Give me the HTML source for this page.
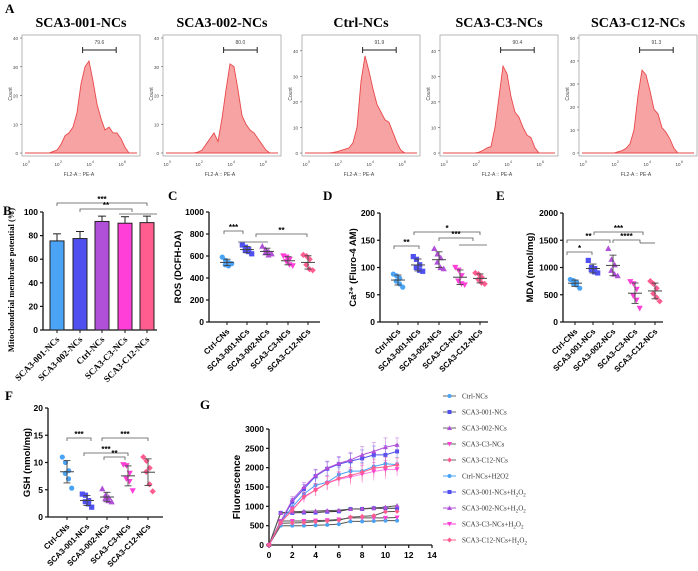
<!DOCTYPE html>
<html><head><meta charset="utf-8">
<style>
html,body{margin:0;padding:0;background:#fff;}
svg{display:block;font-family:"Liberation Sans",sans-serif;}
.serif{font-family:"Liberation Serif",serif;}
</style></head>
<body>
<svg id="fig" width="698" height="571" viewBox="0 0 698 571" xmlns="http://www.w3.org/2000/svg"></svg>
<script>
// ===== Panel A data (histogram counts at log10 steps of 0.25 starting at 1.5) =====
const histTitles = ["SCA3-001-NCs","SCA3-002-NCs","Ctrl-NCs","SCA3-C3-NCs","SCA3-C12-NCs"];
const histGates = ["79.6","80.0","91.9","90.4","91.3"];
const histYMax = [40,40,45,45,50];
const hist0 = [0,0.5,1,3,6,7,9,14,24,30,32,25,17,12,8,9,7,7,5,2,0,0,0];
const hist1 = [0,0,0.3,1,3,5,7,4,12,22,31,30,22,13,10,8,7,5,3,1,0,0,0];
const hist2 = [0,0.2,0.5,1,1.5,2,4,10,28,38,32,25,19,16,13,12,8,4,1,0,0,0,0];
const hist3 = [0,0,0,0.3,1,2,2.5,10,22,34,31,22,16,14,10,7,6,2,0,0,0,0,0];
const hist4 = [0,0,0,0.5,1,2,4,10,25,36,34,27,19,17,11,9,6,2,0,0,0,0,0];
const histData = [hist0,hist1,hist2,hist3,hist4];

// ===== Panel B =====
const bCats = ["SCA3-001-NCs","SCA3-002-NCs","Ctrl-NCs","SCA3-C3-NCs","SCA3-C12-NCs"];
const bMeans = [75.5,77.5,92,90.5,91];
const bErr = [6,6,4.5,5.5,5.5];
const bTicks = [0,20,40,60,80,100];

// ===== Scatter panels =====
const rosCats = ["Ctrl-CNs","SCA3-001-NCs","SCA3-002-NCs","SCA3-C3-NCs","SCA3-C12-NCs"];
const rosVals = [[590,560,540,520,510,530],[700,680,660,650,640,620],[690,660,640,630,610,620],[600,590,570,550,520,510],[610,600,570,520,480,470]];
const rosTicks = [0,200,400,600,800,1000];
const caCats = ["Ctrl-NCs","SCA3-001-NCs","SCA3-002-NCs","SCA3-C3-NCs","SCA3-C12-NCs"];
const caVals = [[88,85,80,75,70,64],[120,115,105,100,95,93],[135,125,118,110,100,98],[100,95,85,75,70,68],[90,88,82,78,72,70]];
const caTicks = [0,50,100,150,200];
const mdaCats = ["Ctrl-CNs","SCA3-001-NCs","SCA3-002-NCs","SCA3-C3-NCs","SCA3-C12-NCs"];
const mdaVals = [[780,760,730,700,680,620],[1130,1000,980,960,920,900],[1350,1150,1050,950,880,850],[740,700,600,480,400,250],[750,700,620,520,450,380]];
const mdaTicks = [0,500,1000,1500,2000];
const gshCats = ["Ctrl-CNs","SCA3-001-NCs","SCA3-002-NCs","SCA3-C3-NCs","SCA3-C12-NCs"];
const gshVals = [[11,10,8.5,8,7,5.3],[4.2,4,3,2.8,2.4,1.8],[5.2,4,3.6,3.4,3,2.8],[9.6,9.4,8,7,6.5,4.8],[11,10.3,9,8.3,6,4.7]];
const gshTicks = [0,5,10,15,20];

// ===== Panel G =====
const gTimes = [0,1,2,3,4,5,6,7,8,9,10,11];
const gNames = ["Ctrl-NCs","SCA3-001-NCs","SCA3-002-NCs","SCA3-C3-NCs","SCA3-C12-NCs","Ctrl-NCs+H2O2","SCA3-001-NCs+H2O2","SCA3-002-NCs+H2O2","SCA3-C3-NCs+H2O2","SCA3-C12-NCs+H2O2"];
const g0 = [0,500,500,500,510,520,540,610,610,620,630,630];
const g1 = [0,830,830,840,840,860,870,930,930,950,950,950];
const g2 = [0,830,860,870,880,890,900,930,940,960,980,1020];
const g3 = [0,620,620,620,630,640,660,700,700,700,700,710];
const g4 = [0,560,570,580,600,620,640,720,740,760,860,870];
const g5 = [0,600,980,1320,1550,1620,1820,1910,1910,2030,2100,2080];
const g6 = [0,600,1120,1450,1780,1970,2090,2170,2240,2330,2330,2420];
const g7 = [0,600,1170,1500,1800,1990,2110,2200,2330,2420,2530,2590];
const g8 = [0,580,920,1220,1430,1600,1700,1760,1830,1900,1950,1960];
const g9 = [0,580,900,1250,1420,1600,1720,1800,1880,1990,2020,2070];
const gSeries = [g0,g1,g2,g3,g4,g5,g6,g7,g8,g9];
const gErrH = [0,40,80,120,160,180,180,200,220,230,240,180];
const gXTicks = [0,2,4,6,8,10,12,14];
const gYTicks = [0,500,1000,1500,2000,2500,3000];

const COLORS = ["#4aa3f5","#5050f0","#b050d8","#ff3fd8","#ff5c8f"];
const SHAPES = ["circle","square","tri","tridown","diamond"];
const NS = "http://www.w3.org/2000/svg";
const svg = document.getElementById("fig");
function mk(tag, attrs, parent, txt){
  const e = document.createElementNS(NS, tag);
  for (const k in attrs) e.setAttribute(k, attrs[k]);
  if (txt !== undefined) e.textContent = txt;
  (parent||svg).appendChild(e);
  return e;
}
function grp(name){ const g = mk("g",{});   return g; }
function label(txt,x,y,size,parent){
  const t = mk("text",{x:x,y:y,"font-size":size,"font-weight":"bold","class":"serif"},parent,txt);
  
  
}
function marker(shape,x,y,r,color,parent){
  let e;
  if (shape==="circle") e = mk("circle",{cx:x,cy:y,r:r,fill:color},parent);
  else if (shape==="square") e = mk("rect",{x:x-r,y:y-r,width:2*r,height:2*r,fill:color},parent);
  else if (shape==="tri") e = mk("polygon",{points:`${x},${y-r-0.5} ${x-r-0.5},${y+r} ${x+r+0.5},${y+r}`,fill:color},parent);
  else if (shape==="tridown") e = mk("polygon",{points:`${x},${y+r+0.5} ${x-r-0.5},${y-r} ${x+r+0.5},${y-r}`,fill:color},parent);
  else e = mk("polygon",{points:`${x},${y-r-0.5} ${x+r+0.5},${y} ${x},${y+r+0.5} ${x-r-0.5},${y}`,fill:color},parent);
  return e;
}

// ---------- Panel A ----------
label("A",5,13,13);
const boxX = [22,163,302,440,579];
histData.forEach((d,i)=>{
  const g = grp("histogram-"+histTitles[i].toLowerCase());
  const bx = boxX[i], top=35, base=153, bw=118;
  const ymax = histYMax[i];
  const yS = v => base - v/ymax*(base-top-3);
  const xS = l => bx + 3 + l*16;
  const tt = mk("text",{x:bx+bw/2,y:27,"font-size":14,"font-weight":"bold","text-anchor":"middle","class":"serif"},g,histTitles[i]);
   
  mk("rect",{x:bx,y:top,width:bw,height:base-top+3,fill:"none",stroke:"#999","stroke-width":0.7},g);
  let pts = `${xS(0)},${base} ${xS(1.5)},${base}`;
  d.forEach((v,k)=>{ pts += ` ${xS(1.5+k*0.25).toFixed(1)},${yS(v).toFixed(1)}`; });
  pts += ` ${xS(1.5+(d.length-1)*0.25)},${base}`;
  const p = mk("polygon",{points:pts,fill:"#f7a3a3",stroke:"#e8474a","stroke-width":0.9},g);
   
  for (let v=0; v<=ymax; v+=10){
    mk("line",{x1:bx-2,x2:bx,y1:yS(v),y2:yS(v),stroke:"#555","stroke-width":0.6},g);
    mk("text",{x:bx-4,y:yS(v)+2,"font-size":4.5,"text-anchor":"end",fill:"#444"},g,v);
  }
  [0,2,4,6].forEach(l=>{
    mk("text",{x:xS(l),y:166,"font-size":4.5,"text-anchor":"middle",fill:"#444"},g,"10");
    mk("text",{x:xS(l)+3,y:163,"font-size":3.5,fill:"#444"},g,l);
  });
  mk("text",{x:bx-10,y:94,"font-size":5,"text-anchor":"middle",fill:"#444",transform:`rotate(-90 ${bx-10} 94)`},g,"Count");
  mk("text",{x:bx+bw/2-2,y:176,"font-size":5,"text-anchor":"middle",fill:"#444"},g,"FL2-A :: PE-A");
  const gx1 = xS(3.6), gx2 = xS(5.7);
  mk("line",{x1:gx1,x2:gx2,y1:50,y2:50,stroke:"#222","stroke-width":1},g);
  mk("line",{x1:gx1,x2:gx1,y1:47,y2:53,stroke:"#222","stroke-width":1},g);
  mk("line",{x1:gx2,x2:gx2,y1:47,y2:53,stroke:"#222","stroke-width":1},g);
  mk("text",{x:(gx1+gx2)/2,y:44,"font-size":5,"text-anchor":"middle",fill:"#444"},g,histGates[i]);
});

// ---------- generic axis helpers ----------
function yAxis(g,x,y0,y1,ticks,fmt){
  const min=ticks[0],max=ticks[ticks.length-1];
  const yS = v => y0 - (v-min)/(max-min)*(y0-y1);
  mk("line",{x1:x,x2:x,y1:y0,y2:y1,stroke:"#111","stroke-width":1.3},g);
  ticks.forEach(t=>{
    mk("line",{x1:x-3,x2:x,y1:yS(t),y2:yS(t),stroke:"#111","stroke-width":1.2},g);
    mk("text",{x:x-5,y:yS(t)+3,"font-size":8.5,"font-weight":"bold","text-anchor":"end"},g,fmt?fmt(t):t);
  });
  return yS;
}
function catLabels(g,xs,cats,y,serif,size){
  xs.forEach((x,i)=>{
    const t = mk("text",{x:x+3,y:y,"font-size":size||8,"font-weight":"bold","text-anchor":"end",transform:`rotate(-45 ${x+3} ${y})`},g,cats[i]);
    if (serif) t.setAttribute("class","serif");
     
  });
}
function bracket(g,x1,x2,y,txt){
  mk("path",{d:`M${x1},${y+3}V${y}H${x2}V${y+3}`,fill:"none",stroke:"#555","stroke-width":0.8},g);
  if (txt) mk("text",{x:(x1+x2)/2,y:y-1,"font-size":8,"font-weight":"bold","text-anchor":"middle"},g,txt);
}

// ---------- Panel B ----------
label("B",3,215,13);
{
  const g = grp("bar-chart-mmp");
  const x0=43, x1=157, y0=330, y1=212;
  const cx = [57,80,102,125,147];
  const yS = yAxis(g,x0,y0,y1,bTicks);
  mk("line",{x1:x0,x2:x1,y1:y0,y2:y0,stroke:"#111","stroke-width":1.3},g);
  bMeans.forEach((m,i)=>{
    const r = mk("rect",{x:cx[i]-7,y:yS(m),width:14,height:y0-yS(m),fill:COLORS[i],stroke:"#222","stroke-width":1},g);
     
    mk("line",{x1:cx[i],x2:cx[i],y1:yS(m),y2:yS(m+bErr[i]),stroke:"#222","stroke-width":1},g);
    mk("line",{x1:cx[i]-4,x2:cx[i]+4,y1:yS(m+bErr[i]),y2:yS(m+bErr[i]),stroke:"#222","stroke-width":1},g);
    mk("line",{x1:cx[i],x2:cx[i],y1:y0,y2:y0+3,stroke:"#111","stroke-width":1},g);
  });
  catLabels(g,cx,bCats,340,true,9);
  const yl = mk("text",{x:14,y:280,"font-size":8.5,"font-weight":"bold","class":"serif","text-anchor":"middle",transform:"rotate(-90 14 280)"},g,"Mitochondrial membrane potential (%)");
   
  bracket(g,57,147,203,"***");
  bracket(g,80,132,209,"**");
  mk("line",{x1:119,x2:157,y1:214,y2:214,stroke:"#555","stroke-width":0.8},g);
}

// ---------- scatter panels ----------
function scatterPanel(name,vals,cats,ticks,x0,x1,y0,y1,cx,ytitle,ytx,sig){
  const g = grp(name);
  const yS = yAxis(g,x0,y0,y1,ticks);
  mk("line",{x1:x0,x2:x1,y1:y0,y2:y0,stroke:"#111","stroke-width":1.3},g);
  vals.forEach((arr,i)=>{
    const mean = arr.reduce((a,b)=>a+b,0)/arr.length;
    const sd = Math.sqrt(arr.reduce((a,b)=>a+(b-mean)*(b-mean),0)/(arr.length-1));
    arr.forEach((v,k)=>{
      const off = ((k%3)-1)*3.2 + (k>=3?1.5:-1.5);
      const m = marker(SHAPES[i],cx[i]+off,yS(v),2.6,COLORS[i],g);
       
    });
    mk("line",{x1:cx[i]-7,x2:cx[i]+7,y1:yS(mean),y2:yS(mean),stroke:"#444","stroke-width":1},g);
    mk("line",{x1:cx[i],x2:cx[i],y1:yS(mean-sd),y2:yS(mean+sd),stroke:"#444","stroke-width":0.9},g);
    mk("line",{x1:cx[i]-3.5,x2:cx[i]+3.5,y1:yS(mean-sd),y2:yS(mean-sd),stroke:"#444","stroke-width":0.9},g);
    mk("line",{x1:cx[i]-3.5,x2:cx[i]+3.5,y1:yS(mean+sd),y2:yS(mean+sd),stroke:"#444","stroke-width":0.9},g);
    mk("line",{x1:cx[i],x2:cx[i],y1:y0,y2:y0+3,stroke:"#111","stroke-width":1},g);
  });
  catLabels(g,cx,cats,y0+10,false,8);
  const yl = mk("text",{x:ytx,y:(y0+y1)/2,"font-size":9.5,"font-weight":"bold","text-anchor":"middle",transform:`rotate(-90 ${ytx} ${(y0+y1)/2})`},g,ytitle);
   
  sig(g);
}
label("C",168,200,13);
scatterPanel("ros-scatter",rosVals,rosCats,rosTicks,209,320,322,212,[227,247,267,288,308],"ROS (DCFH-DA)",181,g=>{
  bracket(g,224,243,231,"***");
  bracket(g,256,307,234,"**");
  mk("line",{x1:238,x2:268,y1:242,y2:242,stroke:"#555","stroke-width":0.8},g);
});
label("D",323,200,13);
scatterPanel("calcium-scatter",caVals,caCats,caTicks,380,488,322,213,[398,418,439,460,480],"Ca²⁺ (Fluro-4 AM)",356,g=>{
  bracket(g,394,419,246,"**");
  bracket(g,414,480,232,"*");
  bracket(g,439,473,238,"***");
  mk("line",{x1:459,x2:487,y1:245,y2:245,stroke:"#555","stroke-width":0.8},g);
});
label("E",496,200,13);
scatterPanel("mda-scatter",mdaVals,mdaCats,mdaTicks,563,663,322,213,[575,593,613,635,655],"MDA (nmol/mg)",533,g=>{
  bracket(g,567,592,252,"*");
  bracket(g,567,610,240,"**");
  bracket(g,594,643,232,"***");
  bracket(g,613,640,240,"****");
  mk("line",{x1:640,x2:655,y1:243,y2:243,stroke:"#555","stroke-width":0.8},g);
});
label("F",5,400,13);
scatterPanel("gsh-scatter",gshVals,gshCats,gshTicks,48,163,517,408,[67,87,107,128,148],"GSH (nmol/mg)",30,g=>{
  bracket(g,67,91,438,"***");
  bracket(g,102,148,438,"***");
  bracket(g,84,128,453,"***");
  bracket(g,104,125,457,"**");
});

// ---------- Panel G ----------
label("G",200,409,13);
{
  const g = grp("fluorescence-line-chart");
  const x0=269, xEnd=432, y0=545, y1=429;
  const xS = v => x0 + (v-gXTicks[0])/(gXTicks[gXTicks.length-1]-gXTicks[0])*(xEnd-x0);
  const yS = yAxis(g,x0,y0,y1,gYTicks);
  mk("line",{x1:x0,x2:xEnd,y1:y0,y2:y0,stroke:"#111","stroke-width":1.3},g);
  gXTicks.forEach(t=>{
    mk("line",{x1:xS(t),x2:xS(t),y1:y0,y2:y0+3,stroke:"#111","stroke-width":1.2},g);
    mk("text",{x:xS(t),y:y0+13,"font-size":8.5,"font-weight":"bold","text-anchor":"middle"},g,t);
  });
  const yl = mk("text",{x:240,y:487,"font-size":10,"font-weight":"bold","text-anchor":"middle",transform:"rotate(-90 240 487)"},g,"Fluorescence");
   
  const lineCols = ["#555","#333","#555","#555","#555",COLORS[0],COLORS[1],COLORS[2],"#ff7fe8",COLORS[4]];
  gSeries.forEach((s,i)=>{
    const col = COLORS[i%5];
    const sg = grp("series-"+gNames[i].toLowerCase());
    g.appendChild(sg);
    if (i>=5) s.forEach((v,k)=>{
      mk("line",{x1:xS(gTimes[k]),x2:xS(gTimes[k]),y1:yS(v-gErrH[k]),y2:yS(v+gErrH[k]),stroke:col,"stroke-width":0.7,opacity:0.6},sg);
      mk("line",{x1:xS(gTimes[k])-2,x2:xS(gTimes[k])+2,y1:yS(v+gErrH[k]),y2:yS(v+gErrH[k]),stroke:col,"stroke-width":0.7,opacity:0.6},sg);
    });
    const pts = s.map((v,k)=>`${xS(gTimes[k]).toFixed(1)},${yS(v).toFixed(1)}`).join(" ");
    mk("polyline",{points:pts,fill:"none",stroke:lineCols[i],"stroke-width":1},sg);
    s.forEach((v,k)=>{ marker(SHAPES[i%5],xS(gTimes[k]),yS(v),2,col,sg); });
  });
  // legend
  gNames.forEach((n,i)=>{
    const lg = grp("legend-entry-"+n.toLowerCase());
    g.appendChild(lg);
    const y = 396 + i*16;
    mk("line",{x1:443,x2:456,y1:y,y2:y,stroke:i<5?"#666":COLORS[i%5],"stroke-width":1},lg);
    marker(SHAPES[i%5],449.5,y,2,COLORS[i%5],lg);
    const t = mk("text",{x:462,y:y+2.5,"font-size":7,"class":"serif",fill:"#333"},lg);
    if (n.endsWith("+H2O2") && i>5){
      t.textContent = n.replace("H2O2","H");
      mk("tspan",{"font-size":5,dy:2},t,"2");
      mk("tspan",{dy:-2},t,"O");
      mk("tspan",{"font-size":5,dy:2},t,"2");
    } else t.textContent = n;
  });
}
</script>
</body></html>
